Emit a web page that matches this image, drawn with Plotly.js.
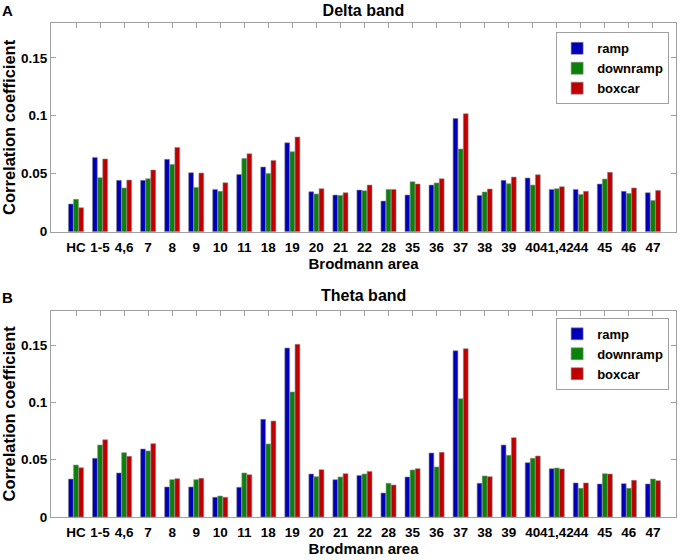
<!DOCTYPE html>
<html><head><meta charset="utf-8">
<script src="https://cdn.plot.ly/plotly-3.0.1.min.js"></script>
<style>html,body{margin:0;padding:0;background:#fff}</style>
</head><body><div id="chart" style="width:680px;height:560px"></div>
<script>
const categories = ["HC","1-5","4,6","7","8","9","10","11","18","19","20","21","22","28","35","36","37","38","39","40","41,42","44","45","46","47"];
const seriesNames = ["ramp","downramp","boxcar"];
const deltaRamp     = [0.0239,0.0641,0.0443,0.0443,0.0624,0.0509,0.0365,0.0494,0.0558,0.0767,0.0345,0.0316,0.0359,0.0264,0.0316,0.0402,0.0977,0.0313,0.0443,0.0463,0.0365,0.0365,0.0411,0.0348,0.0336];
const deltaDownramp = [0.0279,0.0466,0.0377,0.0457,0.0580,0.0382,0.0348,0.0632,0.0503,0.0690,0.0325,0.0313,0.0353,0.0365,0.0431,0.0420,0.0713,0.0342,0.0414,0.0402,0.0371,0.0322,0.0454,0.0330,0.0270];
const deltaBoxcar   = [0.0207,0.0627,0.0445,0.0532,0.0727,0.0506,0.0422,0.0672,0.0615,0.0816,0.0371,0.0336,0.0402,0.0365,0.0411,0.0457,0.1017,0.0368,0.0471,0.0491,0.0388,0.0348,0.0512,0.0377,0.0356];
const thetaRamp     = [0.0331,0.0512,0.0384,0.0593,0.0262,0.0262,0.0172,0.0259,0.0852,0.1474,0.0375,0.0326,0.0363,0.0209,0.0349,0.0558,0.1450,0.0294,0.0628,0.0474,0.0422,0.0297,0.0288,0.0291,0.0288];
const thetaDownramp = [0.0453,0.0628,0.0561,0.0576,0.0326,0.0326,0.0183,0.0384,0.0637,0.1090,0.0352,0.0349,0.0375,0.0294,0.0410,0.0436,0.1032,0.0358,0.0538,0.0512,0.0427,0.0250,0.0378,0.0250,0.0331];
const thetaBoxcar   = [0.0430,0.0674,0.0529,0.0640,0.0334,0.0337,0.0172,0.0369,0.0837,0.1506,0.0413,0.0378,0.0398,0.0279,0.0422,0.0564,0.1468,0.0352,0.0692,0.0532,0.0419,0.0297,0.0375,0.0320,0.0317];
const yTickVals = [0, 0.05, 0.1, 0.15];
const yTickText = ["0", "0.05", "0.1", "0.15"];

const colors = ["#0000b8", "#0a820a", "#c00000"];
const FONT = "Liberation Sans, Arial, Helvetica, sans-serif";

const deltaSets = [deltaRamp, deltaDownramp, deltaBoxcar];
const thetaSets = [thetaRamp, thetaDownramp, thetaBoxcar];
const traces = [];
deltaSets.forEach((vals, i) => traces.push({
  type: "bar", x: categories, y: vals, name: seriesNames[i],
  xaxis: "x", yaxis: "y", legend: "legend",
  marker: {color: colors[i], line: {color: "#8a8a8a", width: 0.6}}
}));
thetaSets.forEach((vals, i) => traces.push({
  type: "bar", x: categories, y: vals, name: seriesNames[i],
  xaxis: "x2", yaxis: "y2", legend: "legend2",
  marker: {color: colors[i], line: {color: "#8a8a8a", width: 0.6}}
}));

const axisCommon = {
  showline: true, linecolor: "#a0a0a0", linewidth: 1, mirror: "ticks",
  ticks: "inside", ticklen: 5, tickcolor: "#a0a0a0", showgrid: false, zeroline: false,
  layer: "below traces"
};
function xAx(anchor) {
  return Object.assign({}, axisCommon, {
    anchor: anchor, type: "category", range: [-1.04, 24.96], tickmode: "linear", tick0: 0, dtick: 1,
    tickangle: 0, ticklabelstandoff: 3,
    tickfont: {family: FONT, size: 13.5, color: "#000", weight: "bold"},
    title: {text: "Brodmann area", font: {family: FONT, size: 15, color: "#000", weight: "bold"}, standoff: 3}
  });
}
function yAx(anchor, domain) {
  return Object.assign({}, axisCommon, {
    anchor: anchor, domain: domain, range: [0, 0.18], tickmode: "array", tickvals: yTickVals, ticktext: yTickText,
    tickfont: {family: FONT, size: 13.5, color: "#000", weight: "bold"},
    title: {text: "Correlation coefficient", font: {family: FONT, size: 16.5, color: "#000", weight: "bold"}, standoff: 5}
  });
}
const legendCommon = {
  xanchor: "right", yanchor: "top", x: 0.989,
  bgcolor: "#ffffff", bordercolor: "#a0a0a0", borderwidth: 1,
  font: {family: FONT, size: 13, color: "#000", weight: "bold"},
  tracegroupgap: 0, itemwidth: 30
};
const layout = {
  width: 680, height: 560,
  paper_bgcolor: "#fff", plot_bgcolor: "#fff",
  margin: {l: 51, r: 4, t: 23, b: 43},
  barmode: "group", bargap: 0.36, bargroupgap: 0.06,
  showlegend: true,
  title: {text: "Delta band", font: {family: FONT, size: 16, color: "#000", weight: "bold"},
          xref: "paper", x: 0.5, xanchor: "center", yref: "container", y: 1 - 10/560, yanchor: "middle"},
  xaxis: xAx("y"), yaxis: yAx("x", [0.5775, 1]),
  xaxis2: xAx("y2"), yaxis2: yAx("x2", [0, 0.4177]),
  legend: Object.assign({}, legendCommon, {y: 0.981}),
  legend2: Object.assign({}, legendCommon, {y: 0.403}),
  annotations: [
    {text: "Theta band", xref: "paper", yref: "paper", x: 0.5, y: (517.3-296)/494.6, xanchor: "center", yanchor: "middle",
     showarrow: false, font: {family: FONT, size: 16, color: "#000", weight: "bold"}},
    {text: "A", xref: "paper", yref: "paper", x: (8-51)/624.7, y: (517.3-10)/494.6, xanchor: "center", yanchor: "middle",
     showarrow: false, font: {family: FONT, size: 15, color: "#000", weight: "bold"}},
    {text: "B", xref: "paper", yref: "paper", x: (8-51)/624.7, y: (517.3-298)/494.6, xanchor: "center", yanchor: "middle",
     showarrow: false, font: {family: FONT, size: 15, color: "#000", weight: "bold"}}
  ]
};
Plotly.newPlot("chart", traces, layout, {displayModeBar: false, staticPlot: true});
</script></body></html>
